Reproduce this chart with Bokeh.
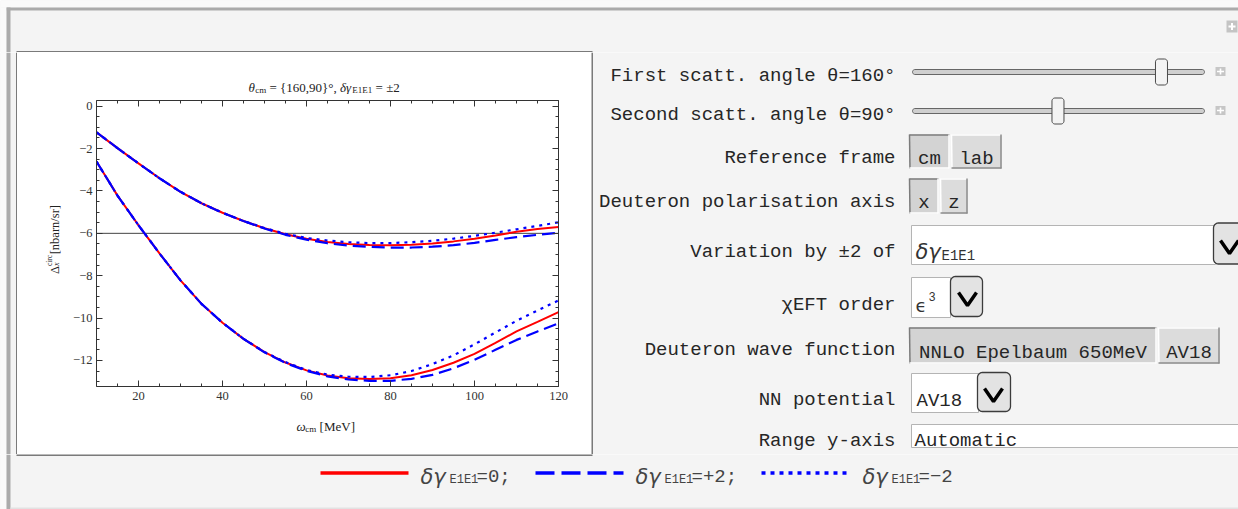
import numpy as np
from bokeh.plotting import figure
from bokeh.models import Range1d, LinearAxis, FixedTicker, CustomJSTickFormatter, Span
from bokeh.layouts import column, row
from bokeh.embed import file_html
from bokeh.resources import INLINE
from bokeh.core.properties import value

# ---------------- chart data ----------------
omega_cm = [10, 15, 20, 25, 30, 35, 40, 45, 50, 55, 60, 65, 70, 75, 80, 85, 90, 95, 100, 105, 110, 115, 120]

upper_d0 = [-1.23, -1.98, -2.70, -3.40, -4.04, -4.58, -5.03, -5.42, -5.76, -6.04, -6.26, -6.41,
            -6.50, -6.55, -6.56, -6.54, -6.48, -6.38, -6.26, -6.10, -5.93, -5.80, -5.70]
upper_p2 = [-1.23, -1.98, -2.70, -3.40, -4.04, -4.58, -5.03, -5.42, -5.77, -6.07, -6.30, -6.47,
            -6.58, -6.64, -6.67, -6.67, -6.63, -6.56, -6.45, -6.31, -6.18, -6.07, -5.97]
upper_m2 = [-1.23, -1.98, -2.70, -3.40, -4.04, -4.58, -5.03, -5.42, -5.75, -6.02, -6.22, -6.34,
            -6.42, -6.46, -6.46, -6.42, -6.35, -6.25, -6.12, -5.97, -5.81, -5.65, -5.48]
lower_d0 = [-2.61, -4.22, -5.62, -6.95, -8.22, -9.33, -10.22, -10.98, -11.61, -12.10, -12.47, -12.71,
            -12.84, -12.88, -12.84, -12.70, -12.45, -12.11, -11.69, -11.17, -10.63, -10.18, -9.72]
lower_p2 = [-2.61, -4.22, -5.62, -6.95, -8.22, -9.33, -10.22, -10.98, -11.62, -12.12, -12.49, -12.75,
            -12.90, -12.96, -12.96, -12.87, -12.68, -12.37, -11.97, -11.50, -11.03, -10.63, -10.25]
lower_m2 = [-2.61, -4.22, -5.62, -6.95, -8.22, -9.33, -10.22, -10.98, -11.60, -12.08, -12.45, -12.67,
            -12.77, -12.78, -12.70, -12.50, -12.17, -11.76, -11.24, -10.68, -10.13, -9.64, -9.17]
reference_level = -6

x_ticks = [20, 40, 60, 80, 100, 120]
y_ticks = [0, -2, -4, -6, -8, -10, -12]
x_minor = list(range(10, 121, 5))
y_minor = [v / 2 for v in range(-26, 1)]

# control values
theta_first = 160
theta_second = 90
frame_options = ["cm", "lab"]
axis_options = ["x", "z"]
wave_options = ["NNLO Epelbaum 650MeV", "AV18"]
nn_potential = "AV18"
y_range_text = "Automatic"
legend_values = ["0;", "+2;", "\u22122"]

BG = "#f4f4f4"
EDGE = "#ababab"
MONO = "Liberation Mono"
SERIF = "Liberation Serif"
RED = "#ff0000"
BLUE = "#0000ff"
LABEL_COLOR = "#262626"


def panel(w, h, x0, y0, bg=BG):
    f = figure(width=w, height=h, x_range=Range1d(x0, x0 + w), y_range=Range1d(y0 + h, y0),
               output_backend="svg", toolbar_location=None, min_border=0,
               x_axis_type=None, y_axis_type=None, frame_align=False)
    f.outline_line_color = None
    f.background_fill_color = bg
    f.border_fill_color = bg
    return f


def T(f, x, y, s, size, font=MONO, color=LABEL_COLOR, align="left", style="normal",
      baseline="alphabetic", angle=0.0):
    f.text(x=[x], y=[y], text=[s], text_font=value(font), text_font_size=f"{size}px",
           text_color=color, text_align=align, text_baseline=baseline, text_font_style=style,
           angle=angle)


def rrect(x0, y0, x1, y1, r):
    xs, ys = [], []
    for (cx_, cy_, a0) in [(x1 - r, y0 + r, -90), (x1 - r, y1 - r, 0), (x0 + r, y1 - r, 90), (x0 + r, y0 + r, 180)]:
        for a in np.linspace(a0, a0 + 90, 7):
            xs.append(cx_ + r * np.cos(np.radians(a)))
            ys.append(cy_ + r * np.sin(np.radians(a)))
    return xs, ys


def outer_left(f, y0, y1):
    f.quad(left=0, right=6, top=y0, bottom=y1, fill_color="#fafafa", line_color=None)
    f.quad(left=6, right=10, top=y0, bottom=y1, fill_color=EDGE, line_color=None)


# ---------------- top strip ----------------
top = panel(1238, 52, 0, 0)
top.quad(left=0, right=1238, top=0, bottom=7, fill_color="#fafafa", line_color=None)
top.quad(left=6, right=1238, top=7, bottom=10, fill_color=EDGE, line_color=None)
outer_left(top, 7, 52)
top.quad(left=16, right=592, top=51, bottom=52, fill_color="black", line_color=None)
top.quad(left=1226, right=1237, top=20, bottom=32, fill_color="#c4c4c4", line_color=None)
top.segment(x0=[1228, 1231.5], y0=[26, 22.5], x1=[1235, 1231.5], y1=[26, 29.5], line_color="white", line_width=2)

# ---------------- left strip ----------------
left = panel(17, 402, 0, 52)
outer_left(left, 52, 454)
left.quad(left=16, right=17, top=52, bottom=454, fill_color="black", line_color=None)

# ---------------- chart (white box 17..591 x 52..454) ----------------
TW = {' ': 0.25, '=': 0.564, '{': 0.48, '}': 0.48, ',': 0.25, '°': 0.4, '±': 0.564, 'θ': 0.52,
      'δ': 0.5, 'γ': 0.45, 'c': 0.444, 'm': 0.778, 'E': 0.611, 'ω': 0.68, '[': 0.333, ']': 0.333,
      'M': 0.889, 'e': 0.444, 'V': 0.722, 'Δ': 0.61, 'x': 0.5, 'i': 0.278, 'r': 0.333, 'n': 0.5,
      'b': 0.5, 'a': 0.444, '/': 0.278, 's': 0.389}


def tw(s, size):
    return sum(TW.get(ch, 0.5) for ch in s) * size


def rich_h(f, x0, base, pieces):
    x = x0
    for s, size, style, dy in pieces:
        stripped = s.lstrip(" ")
        x += tw(s[: len(s) - len(stripped)], size)
        T(f, x, base + dy, stripped.rstrip(" "), size, font=SERIF, color="#222222", style=style)
        x += tw(stripped, size)


title_fig = panel(574, 42, 17, 52, bg="white")
rich_h(title_fig, 248, 86.5, [("θ", 13, "italic", 0), ("cm", 9, "normal", 2.5), (" = {160,90}°,", 13, "normal", 0),
                              (" δγ", 13, "italic", 0), ("E1E1", 9, "normal", 2.5), (" = ±2", 13, "normal", 0)])

ylab_fig = panel(45, 318, 17, 94, bg="white")
bx = 54.5
yy = 273.5
def vlab(s, size, style, shift, py):
    T(ylab_fig, bx + shift, py, s, size, font=SERIF, color="#222222", style=style, angle=np.pi / 2)

vlab("Δ", 12.5, "normal", 0, yy)
yy -= tw("Δ", 12.5) + 0.3
vlab("x", 8, "italic", 1.5, yy)
vlab("circ", 7.5, "normal", -5.5, yy)
yy -= tw("circ", 7.5) + 0.5
vlab("[nbarn/sr]", 12.5, "normal", 0, yy)

chart = figure(width=529, height=318, x_range=Range1d(10, 120), y_range=Range1d(-13.23, 0.27),
               output_backend="svg", toolbar_location=None, frame_align=False,
               min_border_left=34, min_border_right=33, min_border_top=6, min_border_bottom=26)
chart.background_fill_color = "white"
chart.border_fill_color = "white"
chart.outline_line_color = None
chart.grid.visible = False
chart.xaxis.ticker = FixedTicker(ticks=x_ticks, minor_ticks=x_minor)
chart.yaxis.ticker = FixedTicker(ticks=y_ticks, minor_ticks=y_minor)
chart.yaxis.formatter = CustomJSTickFormatter(code="return tick < 0 ? '\u2212' + Math.abs(tick) : String(tick);")
blank = CustomJSTickFormatter(code="return '';")
chart.add_layout(LinearAxis(ticker=FixedTicker(ticks=x_ticks, minor_ticks=x_minor),
                            formatter=blank, major_label_standoff=0), "above")
chart.add_layout(LinearAxis(ticker=FixedTicker(ticks=y_ticks, minor_ticks=y_minor),
                            formatter=blank, major_label_standoff=0), "right")
for ax in chart.axis:
    ax.axis_line_color = "#333333"
    ax.axis_line_width = 1
    ax.major_tick_in = 6
    ax.major_tick_out = 0
    ax.minor_tick_in = 3
    ax.minor_tick_out = 0
    ax.major_tick_line_color = "#333333"
    ax.minor_tick_line_color = "#333333"
    ax.major_label_text_font = SERIF
    ax.major_label_text_color = "#333333"
    ax.major_label_text_font_size = "12.5px"
chart.xaxis[0].major_label_standoff = 5
chart.yaxis[0].major_label_standoff = 4

span = Span(location=reference_level, dimension="width", line_color="#444444", line_width=1, level="underlay")
chart.add_layout(span)

for ys in (upper_d0, lower_d0):
    chart.line(omega_cm, ys, line_color=RED, line_width=2)
for ys in (upper_p2, lower_p2):
    chart.line(omega_cm, ys, line_color=BLUE, line_width=2.2, line_dash="13 6")
for ys in (upper_m2, lower_m2):
    chart.line(omega_cm, ys, line_color=BLUE, line_width=2.2, line_dash="3 5")

xlab_fig = panel(574, 42, 17, 412, bg="white")
rich_h(xlab_fig, 296, 426, [("ω", 13, "italic", 0), ("cm", 9, "normal", 2.5), (" [MeV]", 13, "normal", 0)])

chart_box = column(title_fig, row(ylab_fig, chart), xlab_fig)

# ---------------- controls ----------------
c = panel(647, 402, 591, 52)
c.quad(left=591, right=592, top=52, bottom=454, fill_color="black", line_color=None)

LX = 895
T(c, LX, 75, f"First scatt. angle θ={theta_first}°", 19, align="right")
T(c, LX, 114, f"Second scatt. angle θ={theta_second}°", 19, align="right")
T(c, LX, 157, "Reference frame", 19, align="right")
T(c, LX, 201, "Deuteron polarisation axis", 19, align="right")
T(c, LX, 251, "Variation by ±2 of", 19, align="right")
T(c, LX, 304, "χEFT order", 19, align="right")
T(c, LX, 349, "Deuteron wave function", 19, align="right")
T(c, LX, 399, "NN potential", 19, align="right")
T(c, LX, 440, "Range y-axis", 19, align="right")


def thumb_x(val):
    return 924.4 + val * 1.4786


for ty, val in ((71.5, theta_first), (110.5, theta_second)):
    xs, ys = rrect(912, ty - 2.5, 1204, ty + 2.5, 2.5)
    c.patch(xs, ys, fill_color="#cfcfcf", line_color="#666666", line_width=1)
    tx = thumb_x(val)
    xs, ys = rrect(tx - 6, ty - 13, tx + 6, ty + 13, 3)
    c.patch(xs, ys, fill_color="#f3f3f3", line_color="#4a4a4a", line_width=1)
    c.quad(left=1215, right=1225, top=ty - 5, bottom=ty + 4, fill_color="#c6c6c6", line_color=None)
    c.segment(x0=[1216.5, 1220], y0=[ty - 0.5, ty - 3.5], x1=[1223.5, 1220], y1=[ty - 0.5, ty + 2.5],
              line_color="white", line_width=1.6)


def button(x0, x1, y0, y1, label, selected, base):
    c.quad(left=x0, right=x1, top=y0, bottom=y1, fill_color="#d3d3d3" if selected else "#dcdcdc",
           line_color=None)
    tl = "#7c7c7c" if selected else "#ffffff"
    br = "#ffffff" if selected else "#8c8c8c"
    c.segment(x0=[x0, x0], y0=[y0 + 0.5, y0], x1=[x1, x0 + 0.5], y1=[y0 + 0.5, y1], line_color=tl, line_width=1.5)
    c.segment(x0=[x0, x1 - 0.5], y0=[y1 - 0.5, y0], x1=[x1, x1 - 0.5], y1=[y1 - 0.5, y1], line_color=br, line_width=1.5)
    T(c, (x0 + x1) / 2, base, label, 19, align="center")


button(909, 949, 134, 168, frame_options[0], True, 158)
button(951, 1001, 134, 168, frame_options[1], False, 158)
button(909, 938, 178, 213, axis_options[0], True, 202.5)
button(940, 967, 178, 213, axis_options[1], False, 202.5)
button(909, 1156, 327, 363, wave_options[0], True, 352.5)
button(1158, 1219, 327, 363, wave_options[1], False, 352.5)


def wbox(x0, x1, y0, y1):
    c.quad(left=x0, right=x1, top=y0, bottom=y1, fill_color="white", line_color="#b4b4b4", line_width=1)


def dropdown(x0, x1, y0, y1, chev):
    xs, ys = rrect(x0, y0, x1, y1, 5)
    c.patch(xs, ys, fill_color="#e3e3e3", line_color="#3c3c3c", line_width=1.3)
    mx, top_y = chev
    c.line([mx - 9, mx, mx + 9], [top_y, top_y + 13, top_y], line_color="black", line_width=3.5)


wbox(911, 1215, 225, 264)
T(c, 915, 251, "δγ", 21, font="DejaVu Sans", style="italic", color="#333333")
T(c, 941, 255.5, "E1E1", 14, color="#333333")
dropdown(1213, 1252, 222.5, 263.5, (1229, 240))

wbox(911, 950, 277, 317)
T(c, 915, 305, "ϵ", 18, font="DejaVu Sans", color="#333333")
T(c, 928, 296, "3", 12, color="#333333")
dropdown(950, 982, 276, 316, (967, 292))

wbox(911, 978, 373, 412)
T(c, 916, 400, nn_potential, 19)
dropdown(977, 1010, 372, 411, (993, 388))

wbox(911, 1245, 424, 447)
T(c, 914, 440.5, y_range_text, 19)

# ---------------- bottom strip with legend ----------------
bottom = panel(1238, 55, 0, 454)
outer_left(bottom, 454, 509)
bottom.quad(left=16, right=592, top=454, bottom=455, fill_color="black", line_color=None)
bottom.quad(left=10, right=1238, top=507, bottom=509, fill_color="#e2e2e2", line_color=None)

leg_y = 472.5
bottom.line([320, 408], [leg_y, leg_y], line_color=RED, line_width=3.5)
bottom.line([535, 623], [leg_y, leg_y], line_color=BLUE, line_width=3.5, line_dash="19 7")
bottom.line([761, 847], [leg_y, leg_y], line_color=BLUE, line_width=3.5, line_dash="4 5")
for x0, lab in zip((420, 635, 862), legend_values):
    T(bottom, x0, 476.5, "δγ", 21, font="DejaVu Sans", style="italic", color="#444444")
    T(bottom, x0 + 29, 479.5, "E1E1", 12, color="#444444")
    T(bottom, x0 + 56, 476.5, "=" + lab, 19, color="#444444")

layout = column(top, row(left, chart_box, c), bottom)
open("out.html", "w").write(file_html(layout, INLINE))
